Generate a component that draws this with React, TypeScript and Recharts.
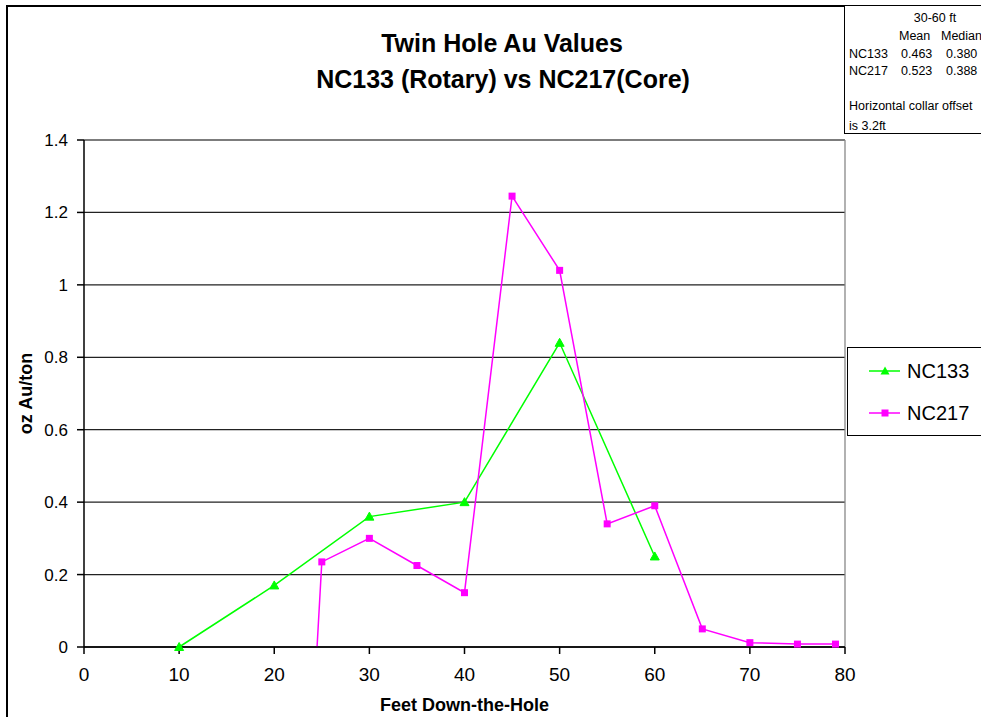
import React from 'react';
import { LineChart, Line, XAxis, YAxis, CartesianGrid, ReferenceLine } from 'recharts';

const nc133Depth = [10, 20, 30, 40, 50, 60];
const nc133Au = [0, 0.17, 0.36, 0.4, 0.84, 0.25];

const nc217Depth = [24.5, 25, 30, 35, 40, 45, 50, 55, 60, 65, 70, 75, 79];
const nc217Au = [0, 0.235, 0.3, 0.225, 0.15, 1.245, 1.04, 0.34, 0.39, 0.05, 0.012, 0.008, 0.008];

const xTicks = [0, 10, 20, 30, 40, 50, 60, 70, 80];
const yTicks = [0, 0.2, 0.4, 0.6, 0.8, 1, 1.2, 1.4];

const statHeader = ['Mean', 'Median'];
const statHoles = ['NC133', 'NC217'];
const statMean = ['0.463', '0.523'];
const statMedian = ['0.380', '0.388'];

const GREEN = '#00FF00';
const MAGENTA = '#FF00FF';
const FONT = '"Liberation Sans", Arial, sans-serif';

const nc133Data = nc133Depth.map((x, i) => ({ x, y: nc133Au[i] }));
const nc217Data = nc217Depth.map((x, i) => ({ x, y: nc217Au[i] }));

const TriDot = (props: any) => {
  const { cx, cy, index } = props;
  if (cx == null || cy == null) return <g key={`t${index}`} />;
  return (
    <polygon
      key={`t${index}`}
      points={`${cx - 4.5},${cy + 3.5} ${cx + 4.5},${cy + 3.5} ${cx},${cy - 4.5}`}
      fill={GREEN}
      stroke={GREEN}
    />
  );
};

const SqDot = (props: any) => {
  const { cx, cy, index } = props;
  if (cx == null || cy == null || index === 0) return <g key={`s${index}`} />;
  return <rect key={`s${index}`} x={cx - 3.5} y={cy - 3.5} width={7} height={7} fill={MAGENTA} />;
};

const abs = (left: number, top: number, extra: any = {}) => ({
  position: 'absolute' as const,
  left,
  top,
  whiteSpace: 'nowrap' as const,
  ...extra,
});

export default function App() {
  const tStyle = { fontFamily: FONT, fontSize: 12.5, lineHeight: '12.5px', color: '#000' };
  return (
    <div
      style={{
        position: 'absolute',
        left: 0,
        top: 0,
        width: 981,
        height: 717,
        overflow: 'hidden',
        background: '#fff',
        fontFamily: FONT,
      }}
    >
      <div
        style={{
          position: 'absolute',
          left: 6,
          top: 5,
          width: 1100,
          height: 1000,
          border: '2px solid #000',
        }}
      />
      <div style={{ position: 'absolute', left: 0, top: 0 }}>
        <LineChart
          width={981}
          height={717}
          margin={{ top: 140, right: 136, bottom: 0, left: 0 }}
        >
          <CartesianGrid vertical={false} stroke="#222" strokeWidth={1.3} />
          <XAxis
            dataKey="x"
            type="number"
            domain={[0, 80]}
            ticks={xTicks}
            allowDuplicatedCategory={false}
            height={70}
            tickSize={7}
            tickMargin={14}
            stroke="#000"
            strokeWidth={1.5}
            tick={{ fill: '#000', fontSize: 19, fontFamily: FONT }}
            label={{
              value: 'Feet Down-the-Hole',
              position: 'insideBottom',
              offset: 6,
              style: { fontSize: 18, fontWeight: 'bold', fill: '#000', fontFamily: FONT },
            }}
          />
          <YAxis
            type="number"
            domain={[0, 1.4]}
            ticks={yTicks}
            width={84}
            tickSize={7}
            tickMargin={9}
            stroke="#000"
            strokeWidth={1.5}
            tick={{ fill: '#000', fontSize: 17, fontFamily: FONT }}
            label={{
              value: 'oz Au/ton',
              angle: -90,
              position: 'insideLeft',
              offset: 0,
              dx: 26,
              style: { fontSize: 18, fontWeight: 'bold', fill: '#000', fontFamily: FONT, textAnchor: 'middle' },
            }}
          />
          <ReferenceLine y={1.4} stroke="#888" strokeWidth={1.3} />
          <ReferenceLine x={80} stroke="#888" strokeWidth={1.3} />
          <Line
            data={nc133Data}
            dataKey="y"
            name="NC133"
            stroke={GREEN}
            strokeWidth={1.5}
            dot={TriDot}
            activeDot={false}
            isAnimationActive={false}
          />
          <Line
            data={nc217Data}
            dataKey="y"
            name="NC217"
            stroke={MAGENTA}
            strokeWidth={1.5}
            dot={SqDot}
            activeDot={false}
            isAnimationActive={false}
          />
        </LineChart>
      </div>

      <div style={abs(502, 31, { transform: 'translateX(-50%)', fontSize: 25, lineHeight: '25px', fontWeight: 'bold' })}>
        Twin Hole Au Values
      </div>
      <div style={abs(503, 67, { transform: 'translateX(-50%)', fontSize: 25, lineHeight: '25px', fontWeight: 'bold' })}>
        NC133 (Rotary) vs NC217(Core)
      </div>

      <div
        style={{
          position: 'absolute',
          left: 844,
          top: 5,
          width: 160,
          height: 127,
          border: '1px solid #000',
          background: '#fff',
        }}
      />
      <div style={abs(935, 12, { ...tStyle, transform: 'translateX(-50%)' })}>30-60 ft</div>
      <div style={abs(899, 30, tStyle)}>{statHeader[0]}</div>
      <div style={abs(941, 30, tStyle)}>{statHeader[1]}</div>
      {statHoles.map((h, i) => (
        <React.Fragment key={h}>
          <div style={abs(849, 48 + i * 17, tStyle)}>{h}</div>
          <div style={abs(901, 48 + i * 17, tStyle)}>{statMean[i]}</div>
          <div style={abs(946, 48 + i * 17, tStyle)}>{statMedian[i]}</div>
        </React.Fragment>
      ))}
      <div style={abs(849, 100, tStyle)}>Horizontal collar offset</div>
      <div style={abs(849, 120, tStyle)}>is 3.2ft</div>

      <div
        style={{
          position: 'absolute',
          left: 847,
          top: 347,
          width: 160,
          height: 87,
          border: '1px solid #000',
          background: '#fff',
        }}
      />
      <svg style={{ position: 'absolute', left: 847, top: 347 }} width={60} height={90}>
        <line x1={22} y1={24} x2={53} y2={24} stroke={GREEN} strokeWidth={1.5} />
        <polygon points={`33.5,27.5 42.5,27.5 38,19.5`} fill={GREEN} />
        <line x1={22} y1={66} x2={53} y2={66} stroke={MAGENTA} strokeWidth={1.5} />
        <rect x={34.5} y={62.5} width={7} height={7} fill={MAGENTA} />
      </svg>
      <div style={abs(907, 361, { fontSize: 20, lineHeight: '20px' })}>NC133</div>
      <div style={abs(907, 403, { fontSize: 20, lineHeight: '20px' })}>NC217</div>
    </div>
  );
}
